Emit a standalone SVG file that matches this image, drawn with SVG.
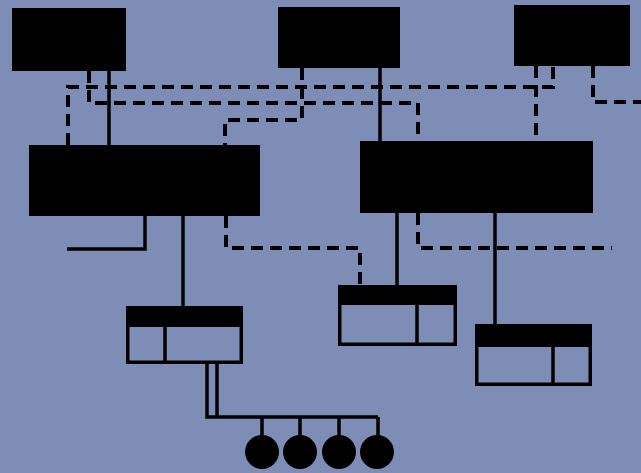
<svg xmlns="http://www.w3.org/2000/svg" width="641" height="473" viewBox="0 0 641 473">
<style>
.blk{fill:#000}
.sol{fill:none;stroke:#000;stroke-width:3.5}
.dsh{fill:none;stroke:#000;stroke-width:4;stroke-dasharray:12 7}
.frm{fill:none;stroke:#000;stroke-width:3.5}
</style>
<rect width="641" height="473" fill="#7e8db5"/>
<g id="connectors">
<path class="sol" d="M109 71V145"/>
<path class="dsh" d="M89 71V103H418V141"/>
<path class="dsh" d="M68 145V87H553V66"/>
<path class="dsh" d="M536 66V141"/>
<path class="sol" d="M380 68V141"/>
<path class="dsh" d="M302 68V120H225V145"/>
<path class="dsh" d="M593 66V102H641"/>
<path class="sol" d="M145 216V249H67"/>
<path class="sol" d="M183 216V306"/>
<path class="dsh" d="M226 216V248H360V285"/>
<path class="sol" d="M397 213V285"/>
<path class="dsh" d="M418 213V248H612"/>
<path class="sol" d="M495 213V324"/>
<path class="sol" d="M207 364V417H378"/>
<path class="sol" d="M217 364V417"/>
<path class="sol" d="M262 417V440M300 417V440M339 417V440M378 417V440"/>
</g>
<g id="nodeA"><rect class="blk" x="12" y="8" width="114" height="63"/></g>
<g id="nodeB"><rect class="blk" x="278" y="7" width="122" height="61"/></g>
<g id="nodeC"><rect class="blk" x="514" y="5" width="116" height="61"/></g>
<g id="nodeD"><rect class="blk" x="29" y="145" width="231" height="71"/></g>
<g id="nodeE"><rect class="blk" x="360" y="141" width="233" height="72"/></g>
<g id="nodeF">
<rect class="blk" x="126" y="306" width="117" height="21"/>
<rect class="frm" x="127.75" y="307.75" width="113.5" height="54.5"/>
<path class="sol" d="M165 327V363"/>
</g>
<g id="nodeG">
<rect class="blk" x="338" y="285" width="119" height="20" rx="2"/>
<rect class="frm" x="339.75" y="286.75" width="115.5" height="57.5"/>
<path class="sol" d="M417 305V345"/>
</g>
<g id="nodeH">
<rect class="blk" x="475" y="324" width="117" height="23" rx="2"/>
<rect class="frm" x="476.75" y="325.75" width="113.5" height="58.5"/>
<path class="sol" d="M553 347V385"/>
</g>
<g id="leaf1"><circle class="blk" cx="262" cy="452" r="17"/></g>
<g id="leaf2"><circle class="blk" cx="300" cy="452" r="17"/></g>
<g id="leaf3"><circle class="blk" cx="339" cy="452" r="17"/></g>
<g id="leaf4"><circle class="blk" cx="377" cy="452" r="17"/></g>
</svg>
